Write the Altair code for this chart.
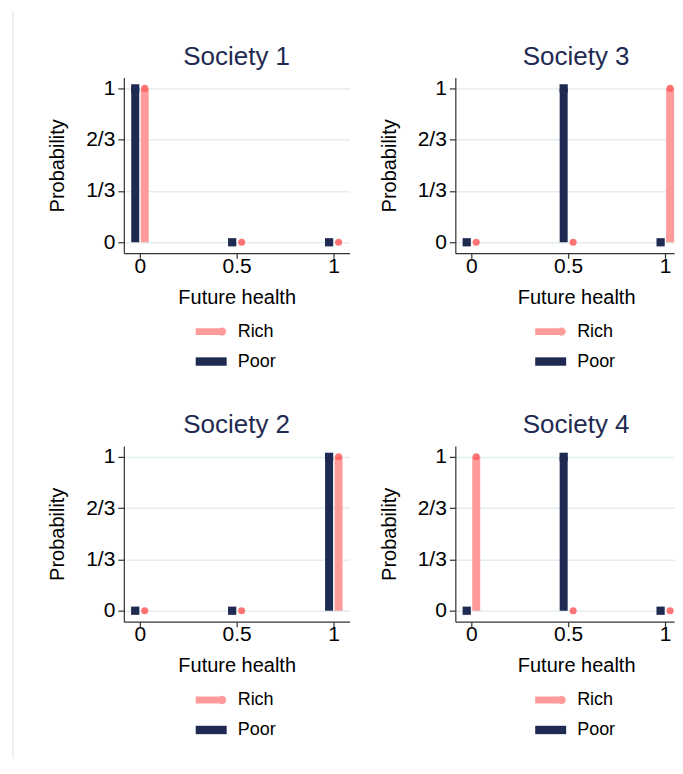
import altair as alt
import pandas as pd

# ---- data ----
health = [0.0, 0.5, 1.0]
x_tick_labels = ["0", "0.5", "1"]
y_tick_values = [0.0, 1 / 3, 2 / 3, 1.0]
y_tick_labels = ["0", "1/3", "2/3", "1"]
groups = ["Rich", "Poor"]

s1_rich = [1, 0, 0]
s1_poor = [1, 0, 0]
s2_rich = [0, 0, 1]
s2_poor = [0, 0, 1]
s3_rich = [0, 0, 1]
s3_poor = [0, 1, 0]
s4_rich = [1, 0, 0]
s4_poor = [0, 1, 0]

societies = {
    "Society 1": (s1_rich, s1_poor),
    "Society 2": (s2_rich, s2_poor),
    "Society 3": (s3_rich, s3_poor),
    "Society 4": (s4_rich, s4_poor),
}

rows = []
for name, (rich, poor) in societies.items():
    for h, p in zip(health, rich):
        rows.append({"society": name, "group": "Rich", "health": h, "prob": p})
    for h, p in zip(health, poor):
        rows.append({"society": name, "group": "Poor", "health": h, "prob": p})
df = pd.DataFrame(rows)

# ---- styling ----
NAVY = "#1f2a52"
PINK = "#ff9b9b"
RED = "#ff5c5c"
GRID = "#e4edef"
FONT = "Liberation Sans"
X_LO = -0.082
PX_PER_UNIT = 226 / 1.164


def label_expr(values, labels):
    expr = "''"
    for v, l in reversed(list(zip(values, labels))):
        expr = f"abs(datum.value - {v}) < 0.001 ? '{l}' : ({expr})"
    return expr


# legend keys: a thick line ending in the marker (circle for Rich, square for Poor)
RICH_PATH = ("M-1,-0.22 L0.7,-0.22 L0.7,0.22 L-1,0.22 Z "
             "M0.43,0 A0.27,0.27 0 1,1 0.97,0 A0.27,0.27 0 1,1 0.43,0 Z")
POOR_PATH = "M-1,-0.27 L1,-0.27 L1,0.27 L-1,0.27 Z"

y_enc = alt.Y(
    "prob:Q",
    scale=alt.Scale(domain=[-0.071, 1.071], nice=False, zero=False, padding=0),
    axis=alt.Axis(values=y_tick_values, labelExpr=label_expr(y_tick_values, y_tick_labels),
                  title="Probability", grid=True),
)


def panel(name, width, shift):
    # right-hand panels are cut by the page edge, like in the reference;
    # their titles and legend keep the reference's place (shift px)
    x_hi = X_LO + width / PX_PER_UNIT
    x_enc = alt.X(
        "health:Q",
        scale=alt.Scale(domain=[X_LO, x_hi], nice=False, zero=False, padding=0),
        axis=alt.Axis(values=health, labelExpr=label_expr(health, x_tick_labels),
                      title="Future health", grid=False, titleX=113 + shift),
    )
    color_enc = alt.Color(
        "group:N",
        scale=alt.Scale(domain=groups, range=[PINK, NAVY]),
        legend=alt.Legend(
            orient="none", legendX=72 + shift, legendY=239, title=None, direction="vertical",
            symbolType={"expr": f"datum.value == 'Rich' ? '{RICH_PATH}' : '{POOR_PATH}'"},
            symbolSize=961, symbolStrokeWidth=0, symbolOpacity=1,
            labelOffset=11, rowPadding=5, padding=0,
            labelFontSize=18, labelColor="black", labelFont=FONT,
        ),
    )
    base = alt.Chart(df).transform_filter(alt.datum.society == name)
    rich = base.transform_filter(alt.datum.group == "Rich")
    poor = base.transform_filter(alt.datum.group == "Poor")
    rich_bar = rich.mark_bar(size=8, xOffset=5).encode(
        x=x_enc, y=y_enc, y2=alt.datum(0), color=color_enc)
    poor_bar = poor.mark_bar(size=8, xOffset=-4.5).encode(
        x=x_enc, y=y_enc, y2=alt.datum(0), color=color_enc)
    poor_pt = poor.mark_square(size=68, color=NAVY, opacity=1, xOffset=-4.5).encode(
        x=x_enc, y=y_enc)
    rich_pt = rich.mark_circle(size=50, color=RED, opacity=0.85, xOffset=5).encode(
        x=x_enc, y=y_enc)
    return alt.layer(rich_bar, poor_bar, poor_pt, rich_pt).properties(
        width=width, height=176,
        title=alt.Title(name, fontSize=26, color=NAVY, fontWeight="normal", font=FONT,
                        offset=-13.5, frame="group", anchor="middle", baseline="alphabetic",
                        dx=(226 - width) / 2 + shift),
    )


grid = alt.concat(
    panel("Society 1", 226, 0), panel("Society 3", 219, 8),
    panel("Society 2", 226, 0), panel("Society 4", 219, 8),
    columns=2, spacing={"row": 193, "column": 106}, bounds="flush",
).resolve_scale(color="independent")

# faint left border of the graph region
border = alt.Chart(pd.DataFrame({"edge": [0]})).mark_rule(
    color=GRID, strokeWidth=1.5
).encode(x=alt.value(0), y=alt.value(-67), y2=alt.value(682)).properties(width=1, height=1)

chart = alt.hconcat(border, grid, spacing=110, bounds="flush").resolve_scale(
    color="independent"
).properties(
    padding={"left": 4, "top": 1, "right": 0, "bottom": 0},
    background="white",
).configure(font=FONT).configure_view(stroke=None).configure_axis(
    domainColor="#333333", domainWidth=1.2, tickColor="#333333", tickWidth=1.2,
    labelFontSize=21, labelColor="black", labelFont=FONT,
    titleFontSize=20, titleFontWeight="normal", titleColor="black", titleFont=FONT,
    gridColor=GRID, gridWidth=1.5,
).configure_axisX(tickSize=5, labelPadding=-3, titlePadding=11).configure_axisY(
    tickSize=6, labelPadding=3, titlePadding=18)

chart.save("out.html", embed_options={"renderer": "svg", "actions": False})
